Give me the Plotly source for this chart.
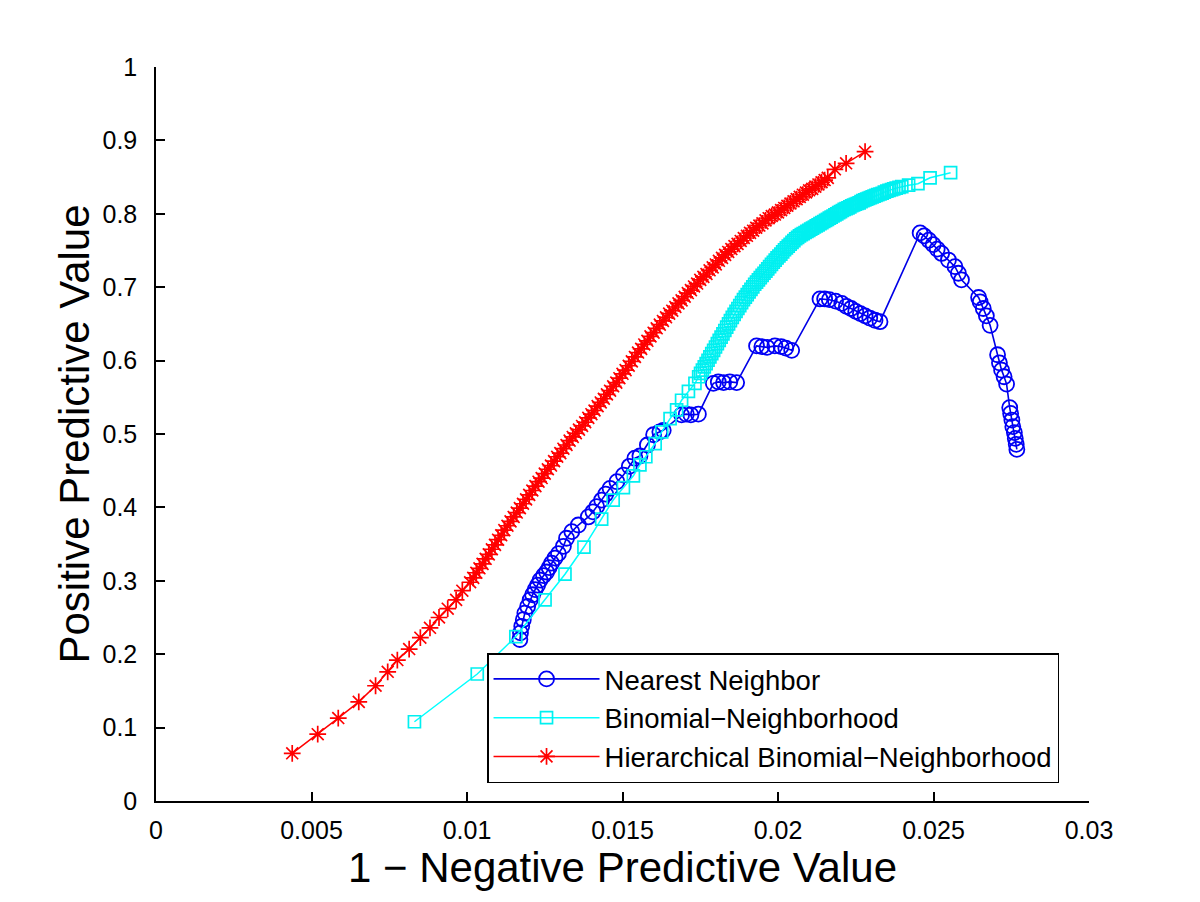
import plotly.graph_objects as go

# Nearest Neighbor (blue circles)
nn_x = [0.01170, 0.01172, 0.01176, 0.01181, 0.01186, 0.01195, 0.01203, 0.01211, 0.01219, 0.01227,
        0.01235, 0.01246, 0.01256, 0.01264, 0.01272, 0.01283, 0.01294, 0.01310, 0.01320, 0.01337,
        0.01358, 0.01390, 0.01405, 0.01417, 0.01433, 0.01446, 0.01460, 0.01482, 0.01503, 0.01522,
        0.01540, 0.01556, 0.01580, 0.01600, 0.01620, 0.01631,
        0.01690, 0.01705, 0.01720, 0.01744,
        0.01792, 0.01808, 0.01825, 0.01845, 0.01867,
        0.01931, 0.01948, 0.01965, 0.01990, 0.02010, 0.02025, 0.02044,
        0.02135, 0.02150, 0.02165, 0.02185, 0.02205, 0.02220, 0.02235, 0.02250, 0.02265, 0.02280,
        0.02295, 0.02312, 0.02328,
        0.02457, 0.02470, 0.02485, 0.02499, 0.02512, 0.02526, 0.02548, 0.02569, 0.02580, 0.02590,
        0.02645, 0.02650, 0.02660, 0.02670, 0.02682,
        0.02706, 0.02712, 0.02719, 0.02727, 0.02735,
        0.02745, 0.02748, 0.02752, 0.02755, 0.02760, 0.02763, 0.02766, 0.02768]
nn_y = [0.220, 0.229, 0.238, 0.247, 0.256, 0.265, 0.274, 0.281, 0.288, 0.294,
        0.301, 0.307, 0.312, 0.318, 0.324, 0.331, 0.337, 0.347, 0.358, 0.367,
        0.376, 0.387, 0.394, 0.401, 0.410, 0.418, 0.426, 0.435, 0.444, 0.456,
        0.467, 0.470, 0.485, 0.499, 0.503, 0.505,
        0.526, 0.527, 0.526, 0.527,
        0.569, 0.571, 0.570, 0.571, 0.570,
        0.620, 0.619, 0.618, 0.620, 0.619, 0.617, 0.614,
        0.684, 0.684, 0.683, 0.681, 0.678, 0.674, 0.671, 0.667, 0.664, 0.661,
        0.658, 0.655, 0.653,
        0.774, 0.770, 0.764, 0.758, 0.752, 0.746, 0.737, 0.728, 0.719, 0.710,
        0.686, 0.680, 0.671, 0.661, 0.648,
        0.608, 0.597, 0.587, 0.578, 0.568,
        0.536, 0.528, 0.519, 0.510, 0.502, 0.494, 0.486, 0.479]

# Binomial-Neighborhood (cyan squares)
bn_x = [0.00831, 0.01033, 0.01157, 0.01251, 0.01315, 0.01376, 0.01433, 0.01470, 0.01503, 0.01535,
        0.01556, 0.01575, 0.01605, 0.01626, 0.01653, 0.01674, 0.01690, 0.01712, 0.01733,
        0.01745, 0.01751, 0.01757, 0.01763, 0.01769, 0.01775, 0.01781, 0.01787, 0.01793, 0.01799,
        0.01805, 0.01811, 0.01817, 0.01823, 0.01829, 0.01835, 0.01841, 0.01847, 0.01853, 0.01859,
        0.01865, 0.01871, 0.01877, 0.01883, 0.01889, 0.01895, 0.01901, 0.01907, 0.01913, 0.01919,
        0.01925, 0.01931, 0.01937, 0.01943, 0.01949, 0.01955, 0.01961, 0.01967, 0.01973, 0.01979,
        0.01985, 0.01991, 0.01997, 0.02003, 0.02009, 0.02015, 0.02021, 0.02027, 0.02033, 0.02039,
        0.02045, 0.02051, 0.02057, 0.02063, 0.02069, 0.02075, 0.02081, 0.02087, 0.02093, 0.02099,
        0.02105, 0.02111, 0.02117, 0.02123, 0.02129, 0.02135, 0.02141, 0.02147, 0.02153, 0.02159,
        0.02165, 0.02171, 0.02177, 0.02183, 0.02189, 0.02195, 0.02201, 0.02207, 0.02213, 0.02219,
        0.02225, 0.02231, 0.02237, 0.02243, 0.02249, 0.02255, 0.02261, 0.02267, 0.02273, 0.02279,
        0.02285, 0.02291, 0.02297, 0.02303, 0.02309, 0.02315, 0.02321, 0.02328, 0.02335, 0.02342,
        0.02350, 0.02357, 0.02365, 0.02372, 0.02380, 0.02389, 0.02398, 0.02420, 0.02450, 0.02489,
        0.02555]
bn_y = [0.108, 0.173, 0.224, 0.274, 0.309, 0.346, 0.384, 0.410, 0.427, 0.443,
        0.458, 0.469, 0.487, 0.503, 0.521, 0.533, 0.546, 0.558, 0.569,
        0.578, 0.5825, 0.587, 0.5915, 0.596, 0.6005, 0.605, 0.6095, 0.614, 0.6185,
        0.623, 0.6275, 0.632, 0.6365, 0.641, 0.6455, 0.650, 0.6545, 0.659, 0.663,
        0.667, 0.671, 0.675, 0.679, 0.683, 0.6865, 0.690, 0.6935, 0.697, 0.7005,
        0.704, 0.707, 0.710, 0.713, 0.716, 0.719, 0.722, 0.725, 0.728, 0.731,
        0.734, 0.737, 0.740, 0.7425, 0.745, 0.748, 0.751, 0.7535, 0.756, 0.7585,
        0.761, 0.7635, 0.766, 0.768, 0.770, 0.7715, 0.773, 0.7745, 0.776, 0.7775,
        0.779, 0.7805, 0.782, 0.7835, 0.785, 0.7865, 0.788, 0.7895, 0.791, 0.7925,
        0.794, 0.7955, 0.797, 0.7985, 0.800, 0.8015, 0.803, 0.8045, 0.806, 0.807,
        0.808, 0.8095, 0.811, 0.812, 0.813, 0.814, 0.815, 0.8165, 0.818, 0.819,
        0.820, 0.821, 0.822, 0.823, 0.824, 0.825, 0.826, 0.827, 0.828, 0.8295,
        0.831, 0.832, 0.833, 0.834, 0.835, 0.836, 0.837, 0.839, 0.841, 0.849,
        0.856]

# Hierarchical Binomial-Neighborhood (red stars)
hb_x = [0.00438, 0.00520, 0.00586, 0.00652, 0.00706, 0.00745, 0.00776, 0.00814, 0.00850, 0.00881,
        0.00910, 0.00938, 0.00965, 0.00985,
        0.0101, 0.0102, 0.0103, 0.0104, 0.0105, 0.0106, 0.0107, 0.0108, 0.0109, 0.0110,
        0.0111, 0.0112, 0.0113, 0.0114, 0.0115, 0.0116, 0.0117, 0.0118, 0.0119, 0.0120,
        0.0121, 0.0122, 0.0123, 0.0124, 0.0125, 0.0126, 0.0127, 0.0128, 0.0129, 0.0130,
        0.0131, 0.0132, 0.0133, 0.0134, 0.0135, 0.0136, 0.0137, 0.0138, 0.0139, 0.0140,
        0.0141, 0.0142, 0.0143, 0.0144, 0.0145, 0.0146, 0.0147, 0.0148, 0.0149, 0.0150,
        0.0151, 0.0152, 0.0153, 0.0154, 0.0155, 0.0156, 0.0157, 0.0158, 0.0159, 0.0160,
        0.0161, 0.0162, 0.0163, 0.0164, 0.0165, 0.0166, 0.0167, 0.0168, 0.0169, 0.0170,
        0.0171, 0.0172, 0.0173, 0.0174, 0.0175, 0.0176, 0.0177, 0.0178, 0.0179, 0.0180,
        0.0181, 0.0182, 0.0183, 0.0184, 0.0185, 0.0186, 0.0187, 0.0188, 0.0189, 0.0190,
        0.0191, 0.0192, 0.0193, 0.0194, 0.0195, 0.0196, 0.0197, 0.0198, 0.0199, 0.0200,
        0.0201, 0.0202, 0.0203, 0.0204, 0.0205, 0.0206, 0.0207, 0.0208, 0.0209, 0.0210,
        0.0211, 0.0212, 0.0213, 0.0214, 0.0215, 0.0216,
        0.02183, 0.02219, 0.02280]
hb_y = [0.065, 0.091, 0.113, 0.135, 0.157, 0.176, 0.192, 0.207, 0.2225, 0.236,
        0.250, 0.262, 0.274, 0.2865,
        0.298, 0.304, 0.311, 0.317, 0.323, 0.330, 0.336, 0.343, 0.349, 0.356,
        0.362, 0.369, 0.375, 0.381, 0.387, 0.393, 0.399, 0.405, 0.411, 0.417,
        0.423, 0.429, 0.435, 0.440, 0.446, 0.452, 0.457, 0.463, 0.469, 0.474,
        0.480, 0.485, 0.491, 0.496, 0.501, 0.506, 0.511, 0.516, 0.522, 0.527,
        0.532, 0.538, 0.543, 0.548, 0.554, 0.559, 0.565, 0.570, 0.576, 0.582,
        0.587, 0.593, 0.599, 0.605, 0.611, 0.616, 0.622, 0.627, 0.633, 0.638,
        0.644, 0.649, 0.654, 0.659, 0.664, 0.668, 0.673, 0.678, 0.682, 0.687,
        0.692, 0.696, 0.701, 0.705, 0.710, 0.714, 0.718, 0.723, 0.727, 0.731,
        0.736, 0.740, 0.744, 0.748, 0.752, 0.756, 0.759, 0.763, 0.767, 0.770,
        0.774, 0.777, 0.781, 0.784, 0.787, 0.791, 0.794, 0.797, 0.799, 0.802,
        0.805, 0.808, 0.811, 0.814, 0.817, 0.820, 0.823, 0.826, 0.829, 0.832,
        0.834, 0.837, 0.840, 0.843, 0.846, 0.849,
        0.8606, 0.8688, 0.8846]

names = ["Nearest Neighbor", "Binomial\u2212Neighborhood", "Hierarchical Binomial\u2212Neighborhood"]

x_ticks = [0, 0.005, 0.01, 0.015, 0.02, 0.025, 0.03]
x_labels = ["0", "0.005", "0.01", "0.015", "0.02", "0.025", "0.03"]
y_ticks = [0, 0.1, 0.2, 0.3, 0.4, 0.5, 0.6, 0.7, 0.8, 0.9, 1]
y_labels = ["0", "0.1", "0.2", "0.3", "0.4", "0.5", "0.6", "0.7", "0.8", "0.9", "1"]

fig = go.Figure()
fig.add_trace(go.Scatter(
    x=nn_x, y=nn_y, mode="lines+markers", name=names[0],
    line=dict(color="rgb(0,0,230)", width=1.6),
    marker=dict(symbol="circle-open", size=15, color="rgb(0,0,245)", line=dict(width=1.8)),
))
fig.add_trace(go.Scatter(
    x=bn_x, y=bn_y, mode="lines+markers", name=names[1],
    line=dict(color="rgb(0,255,255)", width=1.5),
    marker=dict(symbol="square-open", size=12, color="rgb(0,240,240)", line=dict(width=1.7)),
))
fig.add_trace(go.Scatter(
    x=hb_x, y=hb_y, mode="lines+markers", name=names[2],
    line=dict(color="rgb(255,0,0)", width=1.5),
    marker=dict(symbol="asterisk-open", size=14, color="rgb(255,0,0)", line=dict(width=1.7, color="rgb(255,0,0)")),
))

axis_common = dict(
    showgrid=False, zeroline=False, showline=True, linecolor="black", linewidth=1.5,
    ticks="inside", ticklen=9, tickwidth=1.5, tickcolor="black", mirror=False,
    tickfont=dict(size=25, color="black"),
)

fig.update_layout(
    width=1200, height=902,
    paper_bgcolor="white", plot_bgcolor="white",
    font=dict(family="Liberation Sans, Arial, sans-serif", color="black"),
    margin=dict(l=148, r=119, t=59, b=109, autoexpand=False),
    xaxis=dict(range=[0, 0.03], tickvals=x_ticks, ticktext=x_labels,
               title=dict(text="1 \u2212 Negative Predictive Value", font=dict(size=42), standoff=6),
               ticklabelstandoff=6, **axis_common),
    yaxis=dict(range=[0, 1], tickvals=y_ticks, ticktext=y_labels,
               title=dict(text="Positive Predictive Value", font=dict(size=42), standoff=0),
               ticklabelstandoff=12, **axis_common),
    legend=dict(
        x=0.3548, y=0.0245, xanchor="left", yanchor="bottom",
        bgcolor="white", bordercolor="black", borderwidth=1.5,
        font=dict(size=27.5, color="black"), itemwidth=106, tracegroupgap=0,
    ),
    showlegend=True,
)

fig.write_html("out.html")
